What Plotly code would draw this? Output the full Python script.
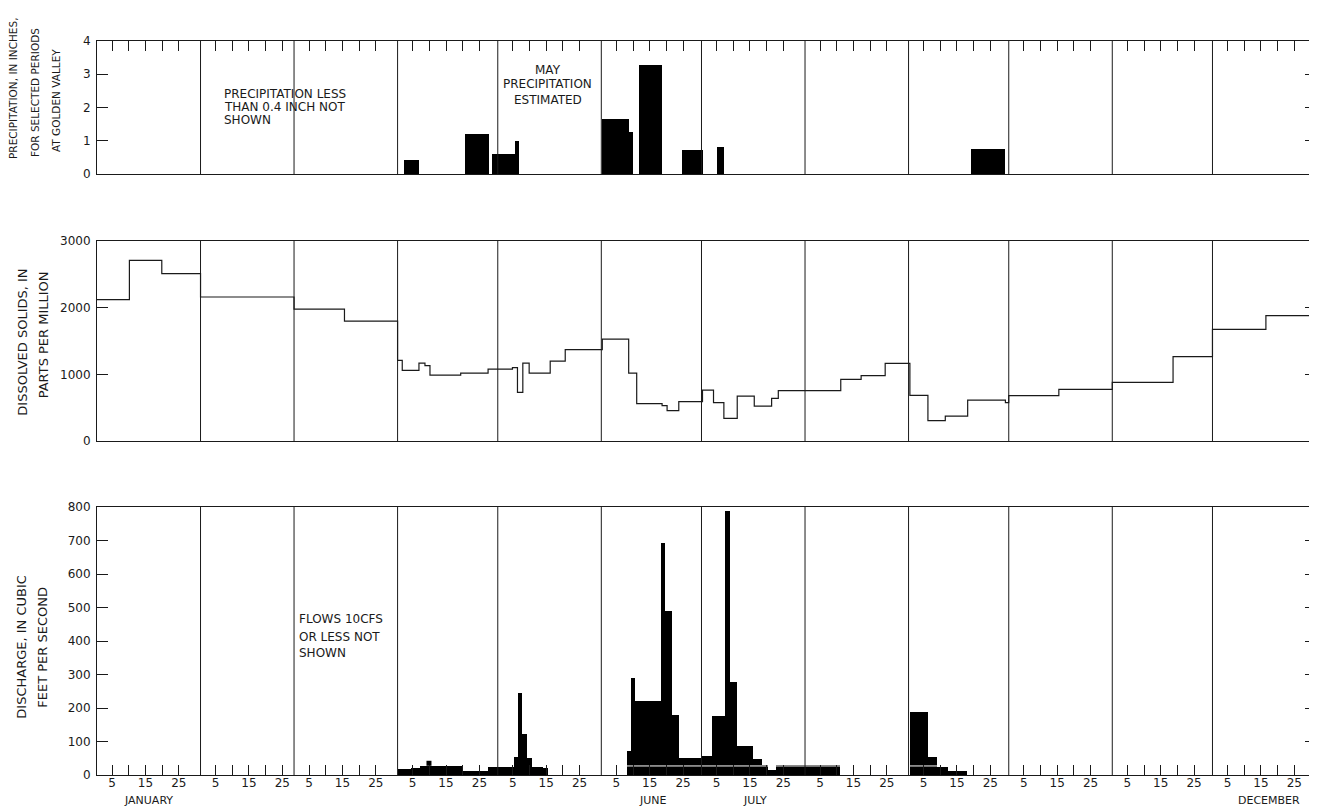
import plotly.graph_objects as go

# ---------------- data (day-of-year, 0 = start of January 1) ----------------
month_starts = [0, 31, 59, 90, 120, 151, 181, 212, 243, 273, 304, 334]
tick_days_in_month = [5, 10, 15, 20, 25]
tick_label_days = {5: "5", 15: "15", 25: "25"}
month_names = ["JANUARY", "JUNE", "JULY", "DECEMBER"]
month_name_pos = [15.4, 166.5, 197.0, 351.0]

# Precipitation, inches, totals for selected periods
precip_start = [92.0, 110.1, 118.2, 125.2, 151.3, 159.4, 162.2, 175.3, 185.6, 261.7]
precip_end = [96.4, 117.4, 125.2, 126.4, 159.4, 160.5, 169.2, 181.5, 187.7, 272.0]
precip_value = [0.43, 1.21, 0.60, 1.00, 1.64, 1.27, 3.28, 0.72, 0.81, 0.76]

# Dissolved solids, ppm (step series: value holds from start day to next start)
ds_start = [0, 9.7, 19.4, 31, 59, 74.1, 90, 91.4, 96.4, 98.2, 99.7, 108.9, 117.1,
            124.4, 125.9, 127.5, 129.4, 135.7, 140.2, 151.3, 159.2, 161.6, 169.2,
            170.7, 174.2, 181.3, 184.6, 187.7, 191.7, 196.8, 202.0, 204.0, 222.7,
            228.8, 236.0, 243.4, 248.8, 254.0, 260.7, 272.0, 273.0, 288.0, 304.0,
            322.2, 334.0, 350.0]
ds_value = [2120, 2710, 2510, 2160, 1980, 1800, 1210, 1060, 1170, 1130, 990, 1020, 1080,
            1100, 730, 1170, 1020, 1200, 1370, 1530, 1020, 560, 530,
            455, 590, 765, 575, 340, 675, 525, 640, 755, 925,
            980, 1165, 685, 305, 375, 615, 575, 680, 775, 880,
            1265, 1675, 1880]
ds_end_day = 365

# Discharge, cfs (flows 10 cfs or less not shown)
q_start = [90.0, 94.0, 96.8, 109.3, 117.0, 124.9, 126.1, 127.2, 128.9, 130.1, 133.5,
           158.7, 160.0, 161.2, 168.8, 170.2, 172.3, 174.2, 181.3, 184.2, 188.1, 189.5,
           191.5, 196.3, 199.0, 201.0, 203.2, 243.3, 248.7, 251.5, 254.8]
q_end = [94.0, 96.8, 109.3, 117.0, 124.9, 126.1, 127.2, 128.9, 130.1, 133.5, 134.9,
         160.0, 161.2, 168.8, 170.2, 172.3, 174.2, 181.3, 184.2, 188.1, 189.5, 191.5,
         196.3, 199.0, 201.0, 203.2, 222.5, 248.7, 251.5, 254.8, 260.5]
q_value = [17, 20, 27, 11, 25, 55, 244, 121, 52, 25, 21,
           73, 289, 221, 692, 490, 178, 52, 57, 177, 789, 277,
           87, 47, 30, 14, 30, 189, 55, 25, 12]
q_point_day = [99.4]
q_point_value = [35]
# thin white drafting line seen inside the summer discharge blocks
q_base_days = [158.7, 222.5, None, 243.3, 254.8]
q_base_value = [27, 27, None, 27, 27]

# ---------------- figure ----------------
INK = "#1a1a1a"
FONT = "DejaVu Sans"

# The page body has an 8px margin, so the figure is drawn 8px in from the
# window's top-left corner; sizes and margins below account for that.
FIG_W, FIG_H = 1309, 803
ML, MR, MT, MB = 89, 1, 33, 36
PLOT_W = FIG_W - ML - MR
PLOT_H = FIG_H - MT - MB

tickvals = [m + d - 0.5 for m in month_starts for d in tick_days_in_month]
ticktext = [tick_label_days.get(d, "") for m in month_starts for d in tick_days_in_month]

fig = go.Figure()

fig.add_trace(go.Bar(
    x=[(s + e) / 2 for s, e in zip(precip_start, precip_end)],
    y=precip_value,
    width=[e - s for s, e in zip(precip_start, precip_end)],
    marker=dict(color="black", line=dict(width=0)),
    xaxis="x", yaxis="y", showlegend=False))

fig.add_trace(go.Scatter(
    x=ds_start + [ds_end_day], y=ds_value + [ds_value[-1]],
    mode="lines", line=dict(color=INK, width=1.2, shape="hv"),
    xaxis="x2", yaxis="y2", showlegend=False))

fig.add_trace(go.Bar(
    x=[(s + e) / 2 for s, e in zip(q_start, q_end)],
    y=q_value,
    width=[e - s for s, e in zip(q_start, q_end)],
    marker=dict(color="black", line=dict(width=0)),
    xaxis="x3", yaxis="y3", showlegend=False))

fig.add_trace(go.Scatter(
    x=q_point_day, y=q_point_value, mode="markers",
    marker=dict(symbol="square", size=5, color="black"),
    xaxis="x3", yaxis="y3", showlegend=False))

fig.add_trace(go.Scatter(
    x=q_base_days, y=q_base_value, mode="lines",
    line=dict(color="white", width=1), connectgaps=False,
    xaxis="x3", yaxis="y3", showlegend=False))

tickfont = dict(family=FONT, size=12, color=INK)
common_x = dict(range=[0, 365], showgrid=False, zeroline=False, showline=True,
                linecolor=INK, linewidth=1, mirror=True, fixedrange=True)
common_y = dict(showgrid=False, zeroline=False, showline=True, linecolor=INK,
                linewidth=1, mirror="ticks", ticks="inside", ticklen=11,
                tickcolor=INK, tickwidth=1, tickfont=tickfont, ticklabelstandoff=3)

D1 = [0.8188, 1.0]
D2 = [0.4550, 0.7275]
D3 = [0.0, 0.3651]

fig.update_layout(
    width=FIG_W, height=FIG_H, autosize=False,
    margin=dict(l=ML, r=MR, t=MT, b=MB, pad=0),
    paper_bgcolor="white", plot_bgcolor="white",
    barmode="overlay", bargap=0,
    xaxis=dict(common_x, anchor="y", side="top", ticks="inside", ticklen=10,
               tickcolor=INK, tickvals=tickvals, showticklabels=False),
    yaxis=dict(common_y, domain=D1, anchor="x", range=[0, 4],
               tickvals=[0, 1, 2, 3, 4]),
    xaxis2=dict(common_x, anchor="y2", ticks="", showticklabels=False),
    yaxis2=dict(common_y, domain=D2, anchor="x2", range=[0, 3000],
                tickvals=[0, 1000, 2000, 3000]),
    xaxis3=dict(common_x, anchor="y3", side="bottom", ticks="inside", ticklen=10,
                tickcolor=INK, tickvals=tickvals, ticktext=ticktext,
                tickfont=tickfont, ticklabelstandoff=-3),
    yaxis3=dict(common_y, domain=D3, anchor="x3", range=[0, 800],
                tickvals=list(range(0, 801, 100))),
)

# month dividers
shapes = []
for xr, yr in [("x", "y domain"), ("x2", "y2 domain"), ("x3", "y3 domain")]:
    for m in month_starts[1:]:
        shapes.append(dict(type="line", xref=xr, yref=yr, x0=m, x1=m, y0=0, y1=1,
                           line=dict(color=INK, width=1)))
fig.update_layout(shapes=shapes)

ann = []
txtfont = dict(family=FONT, size=12, color=INK)
# notes inside panels
for txt, yv in [("PRECIPITATION LESS", 2.42), ("THAN 0.4 INCH NOT", 2.02), ("SHOWN", 1.62)]:
    ann.append(dict(text=txt, x=37.3, y=yv, xref="x", yref="y", xanchor="left",
                    yanchor="middle", showarrow=False, font=txtfont))
for txt, yv in [("MAY", 3.13), ("PRECIPITATION", 2.70), ("ESTIMATED", 2.23)]:
    ann.append(dict(text=txt, x=135.0, y=yv, xref="x", yref="y", xanchor="center",
                    yanchor="middle", showarrow=False, font=txtfont))
for txt, yv in [("FLOWS 10CFS", 465), ("OR LESS NOT", 413), ("SHOWN", 363)]:
    ann.append(dict(text=txt, x=59.8, y=yv, xref="x3", yref="y3", xanchor="left",
                    yanchor="middle", showarrow=False, font=txtfont))


# positions given in window pixels of the reference picture
def px2paper_x(px):
    return (px - 8 - ML) / PLOT_W


def py2paper_y(py):
    return (FIG_H - MB - (py - 8)) / PLOT_H


# month names
for name, xv in zip(month_names, month_name_pos):
    ann.append(dict(text=name, x=xv, y=py2paper_y(800.5), xref="x3", yref="paper",
                    xanchor="center", yanchor="middle", showarrow=False,
                    font=dict(family=FONT, size=11, color=INK)))

# y-axis titles (rotated)
titles = [
    ("PRECIPITATION, IN INCHES,", 13, 88, 10.5),
    ("FOR SELECTED PERIODS", 35, 93, 10.5),
    ("AT GOLDEN VALLEY", 56, 101, 10.5),
    ("DISSOLVED SOLIDS, IN", 21.7, 342, 13),
    ("PARTS PER MILLION", 43.3, 335, 13),
    ("DISCHARGE, IN CUBIC", 20.7, 647, 13),
    ("FEET PER SECOND", 41.7, 647, 13),
]
for txt, px, py, fs in titles:
    ann.append(dict(text=txt, x=px2paper_x(px), y=py2paper_y(py), xref="paper",
                    yref="paper", xanchor="center", yanchor="middle", textangle=-90,
                    showarrow=False, font=dict(family=FONT, size=fs, color=INK)))

fig.update_layout(annotations=ann)

fig.write_html("out.html", config={"responsive": False})
